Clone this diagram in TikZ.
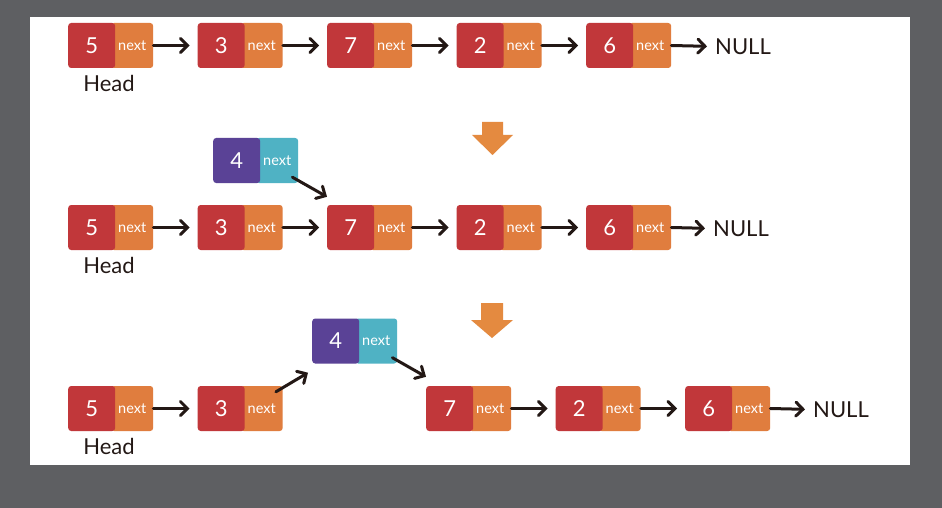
\documentclass[tikz,border=0pt]{standalone}
\usepackage{fontspec}
\setmainfont{Lato}
\usetikzlibrary{arrows.meta}
\definecolor{bggray}{HTML}{5E5F62}
\definecolor{valred}{HTML}{C1373A}
\definecolor{nxtorange}{HTML}{E07D3E}
\definecolor{valpurple}{HTML}{5A4296}
\definecolor{nxtteal}{HTML}{4FB2C4}
\definecolor{downorange}{HTML}{E48A40}
\definecolor{inkblack}{HTML}{231815}
\tikzset{
  valbox/.style={minimum width=47pt, minimum height=45pt, inner sep=0pt, rounded corners=3pt,
    text=white, font=\fontsize{22}{22}\selectfont, anchor=west},
  nxtbox/.style={minimum width=42pt, minimum height=45pt, inner sep=0pt, rounded corners=3pt,
    text=white, font=\fontsize{14.5}{14.5}\selectfont, anchor=west},
  link/.style={draw=inkblack, line width=3pt, line cap=round,
    -{Straight Barb[length=7pt,width=14pt,line cap=round]}},
  nulllbl/.style={anchor=west, inner sep=0pt, text=inkblack, font=\fontsize{22}{22}\selectfont},
  headlbl/.style={inner sep=0pt, text=inkblack, font=\fontsize{22}{22}\selectfont},
  downarrow/.style={fill=downorange}
}
% name, left x, centre y, value, next colour, value colour
\newcommand\llitem[6]{%
  \node[nxtbox, fill=#5] (#1n) at (#2+43,#3) {next};
  \node[valbox, fill=#6] (#1) at (#2,#3) {#4};}
\begin{document}
\begin{tikzpicture}[x=1pt,y=-1pt]
\useasboundingbox (0,0) rectangle (942,508);
\fill[bggray] (0,0) rectangle (942,508);
\fill[white] (30,17) rectangle (910,465);

% ---------- row 1 ----------
\llitem{a1}{68}{45.5}{5}{nxtorange}{valred}
\llitem{a2}{197.5}{45.5}{3}{nxtorange}{valred}
\llitem{a3}{327}{45.5}{7}{nxtorange}{valred}
\llitem{a4}{456.5}{45.5}{2}{nxtorange}{valred}
\llitem{a5}{586}{45.5}{6}{nxtorange}{valred}
\node[nulllbl] (anull) at (715,46.5) {NULL};
\node[headlbl] (ahead) at (109,83) {Head};
\draw[link, shorten >=8pt] (a1n.east) -- (a2.west);
\draw[link, shorten >=8pt] (a2n.east) -- (a3.west);
\draw[link, shorten >=8pt] (a3n.east) -- (a4.west);
\draw[link, shorten >=8pt] (a4n.east) -- (a5.west);
\draw[link, shorten >=8pt] (a5n.east) -- (anull.west);

% down arrow 1
\fill[downarrow] (482,122) -- (503,122) -- (503,135) -- (513,135) -- (492.5,155) -- (472,135) -- (482,135) -- cycle;

% ---------- row 2 ----------
\llitem{b1}{68}{227.5}{5}{nxtorange}{valred}
\llitem{b2}{197.5}{227.5}{3}{nxtorange}{valred}
\llitem{b3}{327}{227.5}{7}{nxtorange}{valred}
\llitem{b4}{456.5}{227.5}{2}{nxtorange}{valred}
\llitem{b5}{586}{227.5}{6}{nxtorange}{valred}
\llitem{bx}{213}{160.5}{4}{nxtteal}{valpurple}
\node[nulllbl] (bnull) at (713,228.5) {NULL};
\node[headlbl] (bhead) at (109,265) {Head};
\draw[link, shorten >=8pt] (b1n.east) -- (b2.west);
\draw[link, shorten >=8pt] (b2n.east) -- (b3.west);
\draw[link, shorten >=8pt] (b3n.east) -- (b4.west);
\draw[link, shorten >=8pt] (b4n.east) -- (b5.west);
\draw[link, shorten >=8pt] (b5n.east) -- (bnull.west);
\draw[link] ([xshift=-6pt,yshift=6pt]bxn.south east) -- ([yshift=8pt]b3.north west);

% down arrow 2
\fill[downarrow] (481,303) -- (503,303) -- (503,320) -- (513,320) -- (492,338) -- (471,320) -- (481,320) -- cycle;

% ---------- row 3 ----------
\llitem{c1}{68}{408.5}{5}{nxtorange}{valred}
\llitem{c2}{197.5}{408.5}{3}{nxtorange}{valred}
\llitem{cx}{312}{341}{4}{nxtteal}{valpurple}
\llitem{c3}{426}{408.5}{7}{nxtorange}{valred}
\llitem{c4}{555.5}{408.5}{2}{nxtorange}{valred}
\llitem{c5}{685}{408.5}{6}{nxtorange}{valred}
\node[nulllbl] (cnull) at (813,409.5) {NULL};
\node[headlbl] (chead) at (109,446) {Head};
\draw[link, shorten >=8pt] (c1n.east) -- (c2.west);
\draw[link] ([xshift=-7pt,yshift=-6pt]c2n.north east) -- ([xshift=-4pt,yshift=-9pt]cx.south west);
\draw[link] ([xshift=-5pt,yshift=6pt]cxn.south east) -- ([yshift=9pt]c3.north west);
\draw[link, shorten >=8pt] (c3n.east) -- (c4.west);
\draw[link, shorten >=8pt] (c4n.east) -- (c5.west);
\draw[link, shorten >=8pt] (c5n.east) -- (cnull.west);
\end{tikzpicture}
\end{document}
